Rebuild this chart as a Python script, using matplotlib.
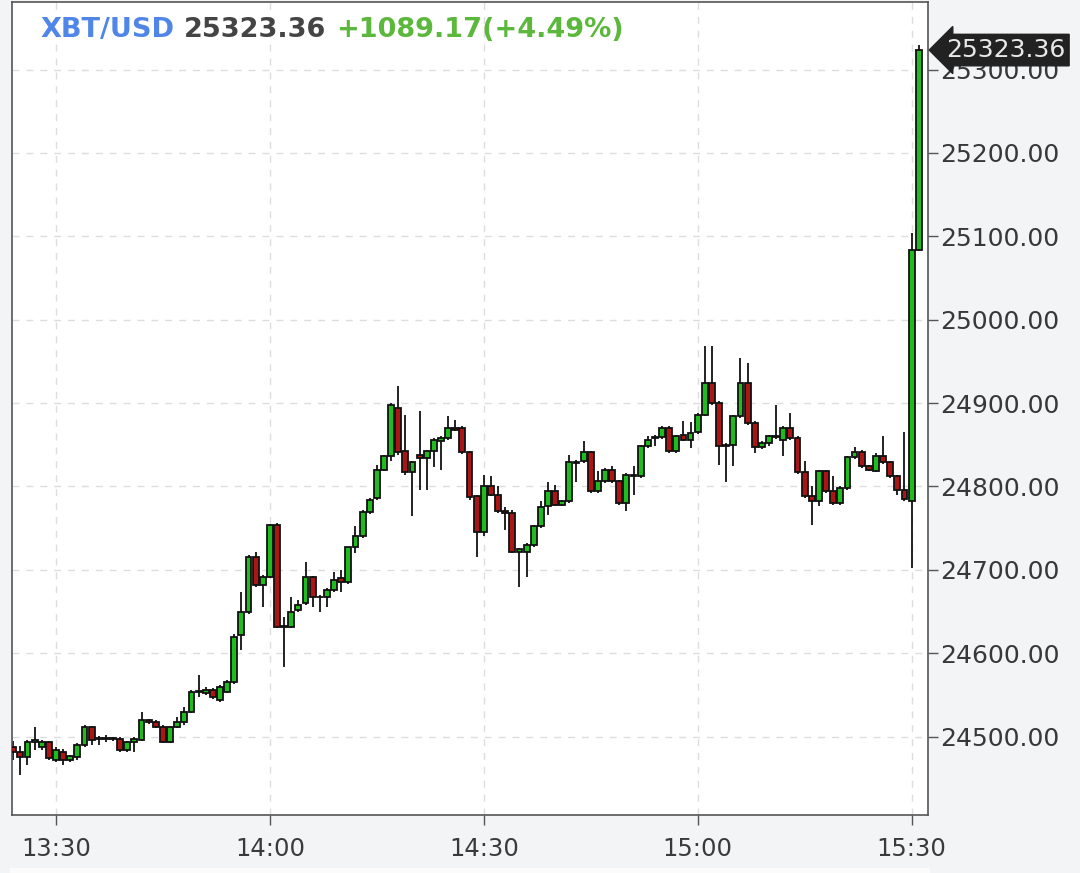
import matplotlib
matplotlib.use("Agg")
import matplotlib.pyplot as plt
import matplotlib.dates as mdates
import matplotlib.transforms as mtransforms
import numpy as np
import pandas as pd

# one-minute candles 13:24 .. 15:31
times = pd.date_range("2022-08-14 13:24", periods=128, freq="1min")

opens = [24488, 24482, 24476, 24494, 24488, 24494, 24472, 24482, 24472, 24475,
         24490, 24511, 24497, 24498, 24497, 24497, 24484, 24493, 24496, 24520,
         24518, 24512, 24493, 24511, 24517, 24529, 24553, 24552, 24556, 24544,
         24554, 24565, 24622, 24649, 24716, 24682, 24692, 24754, 24632, 24632,
         24652, 24660, 24691, 24667, 24668, 24676, 24690, 24685, 24727, 24740,
         24769, 24786, 24820, 24836, 24894, 24842, 24817, 24838, 24834, 24842,
         24855, 24858, 24870, 24870, 24841, 24788, 24745, 24800, 24790, 24770,
         24768, 24722, 24722, 24730, 24752, 24776, 24794, 24778, 24782, 24829,
         24830, 24841, 24794, 24806, 24820, 24806, 24780, 24814, 24812, 24848,
         24858, 24859, 24870, 24842, 24862, 24856, 24865, 24886, 24924, 24900,
         24848, 24850, 24884, 24924, 24876, 24847, 24852, 24860, 24856, 24870,
         24858, 24817, 24788, 24782, 24818, 24794, 24780, 24798, 24835, 24841,
         24824, 24819, 24837, 24829, 24812, 24796, 24783, 25084]
highs = [24495, 24489, 24496, 24512, 24496, 24495, 24488, 24485, 24478, 24492,
         24514, 24513, 24501, 24502, 24499, 24499, 24495, 24500, 24529, 24521,
         24520, 24514, 24513, 24524, 24535, 24556, 24574, 24560, 24558, 24562,
         24568, 24623, 24673, 24718, 24722, 24694, 24755, 24756, 24643, 24667,
         24664, 24710, 24693, 24670, 24678, 24697, 24700, 24728, 24752, 24772,
         24786, 24826, 24838, 24900, 24920, 24886, 24831, 24890, 24844, 24858,
         24860, 24884, 24880, 24872, 24843, 24790, 24814, 24812, 24800, 24775,
         24772, 24726, 24732, 24754, 24782, 24805, 24802, 24784, 24838, 24832,
         24854, 24843, 24818, 24822, 24824, 24808, 24816, 24824, 24850, 24860,
         24862, 24872, 24872, 24862, 24878, 24877, 24888, 24968, 24968, 24902,
         24852, 24886, 24954, 24948, 24878, 24854, 24862, 24898, 24872, 24888,
         24860, 24830, 24800, 24820, 24820, 24812, 24800, 24837, 24847, 24844,
         24826, 24840, 24860, 24831, 24814, 24865, 25104, 25330]
lows = [24472, 24454, 24466, 24484, 24484, 24472, 24469, 24466, 24470, 24472,
        24488, 24490, 24490, 24494, 24495, 24482, 24482, 24482, 24495, 24515,
        24510, 24492, 24492, 24510, 24514, 24528, 24548, 24550, 24545, 24542,
        24552, 24563, 24604, 24647, 24679, 24655, 24690, 24630, 24583, 24630,
        24650, 24658, 24655, 24649, 24656, 24674, 24673, 24683, 24720, 24738,
        24767, 24784, 24818, 24830, 24838, 24814, 24764, 24796, 24796, 24823,
        24820, 24856, 24866, 24839, 24784, 24715, 24740, 24788, 24768, 24748,
        24720, 24680, 24692, 24728, 24750, 24766, 24776, 24776, 24780, 24805,
        24828, 24792, 24792, 24804, 24804, 24778, 24770, 24790, 24810, 24846,
        24848, 24857, 24840, 24840, 24854, 24846, 24863, 24884, 24898, 24826,
        24805, 24824, 24882, 24874, 24840, 24845, 24848, 24857, 24836, 24856,
        24815, 24786, 24754, 24776, 24792, 24778, 24778, 24796, 24833, 24822,
        24818, 24817, 24827, 24810, 24790, 24783, 24702, 25082]
closes = [24481, 24475, 24494, 24496, 24493, 24474, 24484, 24472, 24477, 24490,
          24511, 24496, 24498, 24497, 24498, 24484, 24493, 24497, 24520, 24517,
          24512, 24493, 24511, 24518, 24530, 24553, 24555, 24556, 24547, 24560,
          24565, 24620, 24649, 24716, 24682, 24692, 24754, 24632, 24633, 24650,
          24658, 24691, 24667, 24668, 24676, 24688, 24685, 24727, 24740, 24769,
          24784, 24820, 24836, 24898, 24841, 24817, 24829, 24834, 24842, 24856,
          24858, 24870, 24868, 24841, 24787, 24745, 24800, 24790, 24770, 24768,
          24722, 24725, 24730, 24752, 24775, 24794, 24778, 24782, 24829, 24828,
          24841, 24794, 24806, 24820, 24806, 24780, 24814, 24812, 24848, 24856,
          24859, 24870, 24842, 24860, 24856, 24864, 24886, 24924, 24900, 24848,
          24850, 24884, 24924, 24876, 24847, 24852, 24860, 24859, 24870, 24858,
          24817, 24788, 24782, 24818, 24794, 24780, 24798, 24835, 24841, 24824,
          24820, 24837, 24829, 24812, 24796, 24785, 25084, 25323.36]

last_price = 25323.36
change = "+1089.17(+4.49%)"
price_ticks = [24500, 24600, 24700, 24800, 24900, 25000, 25100, 25200, 25300]
time_ticks = ["13:30", "14:00", "14:30", "15:00", "15:30"]

green = "#1fbb1f"
red = "#aa1515"

fig = plt.figure(figsize=(10.8, 8.73), dpi=100, facecolor="#f3f4f6")
ax = fig.add_axes([12 / 1080, 58 / 873, 916 / 1080, 813 / 873])
ax.set_facecolor("white")

# thin strip along the bottom edge
fig.patches.append(plt.Rectangle((10 / 1080, 0), 920 / 1080, 5 / 873,
                                 transform=fig.transFigure, fc="#fbfbfb",
                                 ec="none"))

x = mdates.date2num(times)
o = np.array(opens)
c = np.array(closes)
body_col = np.where(c >= o, green, red)
minute = 1 / 1440

ax.vlines(x, lows, highs, color="#222222", lw=1.4, zorder=2)
ax.bar(x, np.abs(c - o), bottom=np.minimum(o, c), width=0.82 * minute,
       color=body_col, edgecolor="#111111", linewidth=1.3, zorder=3)

t0 = mdates.date2num(pd.Timestamp("2022-08-14 13:30"))
ax.set_xlim(t0 - 6.17 * minute, t0 + 122.3 * minute)
ax.set_ylim(24406, 25381)

tick_pos = [mdates.date2num(pd.Timestamp("2022-08-14 " + t)) for t in time_ticks]
ax.set_xticks(tick_pos)
ax.set_xticklabels(time_ticks)
ax.yaxis.tick_right()
ax.set_yticks(price_ticks)
ax.set_yticklabels([f"{v:.2f}" for v in price_ticks])

ax.grid(True, color="#dddddd", linestyle=(0, (5, 5)), lw=1, zorder=0)
for s in ax.spines.values():
    s.set_color("#555555")
    s.set_linewidth(1.2)

ax.tick_params(axis="y", length=7, width=1, colors="#555555", labelcolor="#383838",
               labelsize=18, pad=2)
ax.tick_params(axis="x", length=7, width=1, colors="#555555", labelcolor="#3a3a3a",
               labelsize=17.5, pad=9)

# last price marker
trans = mtransforms.blended_transform_factory(fig.transFigure, ax.transData)
ax.text(946 / 1080, last_price, f"{last_price:.2f}", transform=trans, ha="left",
        va="center", fontsize=18, color="#e8e8e8", zorder=10,
        bbox=dict(boxstyle="larrow,pad=0.15", fc="#222222", ec="#222222"))

# header
fig.canvas.draw()
r = fig.canvas.get_renderer()
ty = 1 - 30 / 873
t1 = fig.text(40 / 1080, ty, "XBT/USD", color="#4f86e8", fontsize=19.5,
              fontweight="bold", va="center")
bb = t1.get_window_extent(r)
t2 = fig.text((bb.x1 + 10) / 1080, ty, f"{last_price:.2f}", color="#444444",
              fontsize=19.5, fontweight="bold", va="center")
bb = t2.get_window_extent(r)
fig.text((bb.x1 + 10) / 1080, ty, change, color="#5cb83c", fontsize=19.5,
         fontweight="bold", va="center")

fig.savefig("out.png", dpi=100, facecolor=fig.get_facecolor())
